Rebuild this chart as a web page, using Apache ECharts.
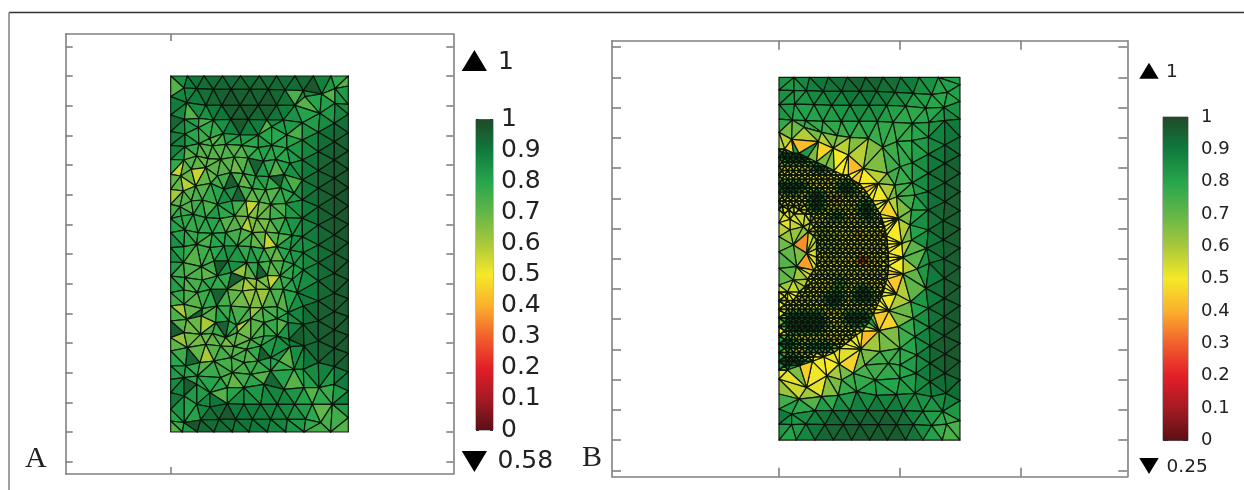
<!DOCTYPE html>
<html><head><meta charset="utf-8">
<style>html,body{margin:0;padding:0;background:#fff}#c{width:1244px;height:490px}</style>
<script src="https://cdn.jsdelivr.net/npm/echarts@6/dist/echarts.min.js"></script>
</head><body><div id="c"></div>
<script>
// colour scale (value, colour)
const scaleValues=[0,.1,.2,.3,.4,.5,.6,.7,.8,.9,1];
const scaleColors=['#5c0f15','#a51a24','#e31f28','#f2602c','#fbb02c','#f5e928','#a9c83a','#63b648','#26a64c','#0f7a3c','#1f4a28'];
const barTicks=['0','0.1','0.2','0.3','0.4','0.5','0.6','0.7','0.8','0.9','1'];

// mesh units: panel A is 534 x 1068, panel B is 543 x 1088, y measured from the top
const yTicksA=[-89,0,89,178,267,356,445,534,623,712,801,890,979,1068,1157];
const xTicksA=[0];
const yTicksB=[-91,0,91,181,272,363,453,544,635,725,816,907,997,1088,1179];
const xTicksB=[0,362,724];

// panel A nodes: x, y, value in percent
const nodesA=[
0,0,78, 50,0,90, 100,0,92, 156,0,92, 210,0,92, 266,0,93, 318,0,92, 373,0,92, 428,0,96, 481,0,82, 533,0,74,
40,36,86, 78,38,92, 128,40,94, 181,40,95, 238,40,95, 293,40,94, 343,42,94, 398,44,92, 453,54,88, 493,38,80,
0,62,92, 533,30,80, 48,80,84, 106,88,92, 153,88,96, 208,88,96, 263,88,96, 318,88,94, 373,88,86, 403,62,76, 493,82,80, 533,85,88,
0,117,92, 41,130,84, 85,127,82, 128,132,80, 180,130,96, 233,130,94, 288,132,92, 338,132,88, 395,140,80, 448,112,76, 533,115,90,
0,167,90, 43,174,86, 83,155,78, 118,187,76, 158,172,78, 208,177,92, 263,177,82, 303,152,78, 348,177,80, 395,192,82, 443,169,90, 491,142,92, 533,170,94,
0,208,90, 43,212,86, 85,203,74, 125,210,74, 165,205,74, 213,208,72, 263,215,84, 303,208,80, 348,216,80, 395,252,88, 443,227,92, 491,197,96, 533,225,95,
0,250,88, 40,252,76, 78,240,72, 112,248,70, 150,250,74, 190,243,72, 232,246,72, 278,256,80, 315,250,78, 358,262,80, 443,284,94, 491,252,97, 533,280,96,
0,295,70, 30,300,66, 62,280,70, 105,275,68, 140,300,72, 180,290,70, 218,293,72, 255,300,86, 295,302,80, 340,296,86, 395,312,88, 491,307,98, 533,335,97,
0,340,74, 38,345,70, 75,330,72, 120,322,70, 160,340,84, 203,330,82, 245,338,74, 285,342,78, 330,335,76, 370,352,80, 443,337,95, 491,362,98, 533,390,98,
0,385,68, 28,392,74, 62,375,74, 95,372,76, 140,385,86, 183,375,88, 225,375,70, 265,378,66, 300,385,76, 345,382,80, 395,372,88, 443,392,94, 533,445,97,
0,428,80, 32,420,80, 68,415,78, 105,425,82, 148,428,80, 192,420,70, 232,422,66, 258,428,64, 298,430,70, 345,425,82, 395,427,86, 491,422,97,
0,470,84, 42,462,78, 82,470,76, 125,472,78, 165,470,76, 212,458,70, 245,470,70, 285,468,68, 325,472,74, 365,478,84, 443,447,94, 533,500,97, 491,477,97,
0,515,90, 40,512,80, 78,505,78, 118,515,78, 160,510,84, 200,510,80, 240,512,76, 280,518,72, 318,512,76, 358,522,86, 395,482,84, 443,507,90, 533,555,96,
0,558,92, 38,560,74, 92,572,72, 130,555,76, 172,555,90, 228,560,80, 262,560,90, 300,555,68, 340,555,78, 370,565,80, 398,530,84, 491,532,96, 443,560,92,
0,600,80, 42,605,74, 95,612,76, 140,600,78, 182,590,84, 222,605,66, 258,610,66, 290,598,66, 328,600,76, 365,610,80, 398,582,84, 491,592,96, 533,612,97,
0,650,84, 40,642,80, 80,650,74, 120,640,84, 170,640,72, 215,645,62, 256,640,58, 298,640,70, 338,640,76, 380,650,84, 443,615,90, 533,668,96,
0,690,74, 40,685,68, 95,698,72, 138,690,80, 180,690,72, 238,695,70, 275,695,70, 320,692,76, 352,710,80, 398,690,90, 491,652,96, 443,675,94,
0,735,76, 48,730,70, 92,720,70, 135,740,84, 175,735,78, 198,748,82, 240,728,70, 280,740,76, 320,728,78, 352,740,84, 398,745,92, 491,707,96, 533,722,96,
0,785,68, 40,770,68, 90,775,66, 125,772,72, 165,785,74, 200,770,70, 240,790,70, 280,780,76, 320,780,80, 355,790,88, 443,735,96, 533,778,96,
0,825,74, 50,815,70, 105,805,66, 150,810,72, 190,812,70, 228,820,74, 270,810,82, 300,845,86, 358,812,88, 400,810,92, 443,795,96, 491,762,96, 533,832,96,
0,870,80, 45,870,84, 88,860,74, 130,855,78, 182,845,74, 220,860,76, 262,855,78, 325,855,78, 398,880,88, 443,860,92, 491,817,98, 533,888,97,
0,910,86, 40,905,80, 80,900,76, 150,905,76, 185,890,72, 240,895,76, 300,885,76, 370,880,76, 491,872,94, 533,945,96,
0,950,92, 78,925,80, 118,950,88, 170,935,74, 220,935,78, 280,925,84, 340,940,90, 400,935,78, 445,935,78, 490,925,76,
40,960,90, 78,985,78, 118,993,94, 170,983,90, 220,985,88, 270,985,88, 320,985,88, 372,985,84, 425,985,80, 485,985,76, 533,985,94,
0,1000,88, 0,1035,78, 40,1040,74, 90,1032,90, 145,1030,94, 195,1030,92, 245,1030,92, 300,1030,88, 350,1030,88, 405,1030,82, 450,1040,74, 533,1025,76,
0,1068,70, 35,1068,78, 80,1068,96, 130,1068,94, 185,1068,90, 235,1068,90, 290,1068,88, 345,1068,86, 400,1068,78, 480,1068,74, 533,1068,68
];
// panel A: single elements whose shade stands out: x, y inside the element, value in percent
const elementsA=[
17,285,56, 50,315,58, 90,300,56, 185,285,60, 258,380,56, 228,445,58, 305,495,56, 10,370,60,
308,552,62, 298,612,56, 228,632,60, 208,597,62, 278,662,62, 33,702,60, 253,712,62, 208,757,58, 93,762,60, 13,792,62, 103,822,60, 168,792,66,
208,157,97, 423,27,97, 178,327,96, 203,367,95, 253,287,95, 338,297,96, 168,557,97, 263,562,96, 188,607,96, 138,642,95, 78,722,95, 173,742,95, 13,767,96, 378,792,96, 268,837,96, 58,837,94, 53,922,96, 318,922,94, 158,1007,97, 80,1047,98,
18,20,72, 515,20,72, 10,1050,72, 520,1050,72, 180,60,97, 290,60,97, 100,60,92, 240,110,97, 300,110,96, 20,140,94,
418,102,72, 378,72,74, 480,60,72, 298,152,72, 378,167,74, 148,182,70, 188,262,68, 228,332,70, 60,115,72, 85,150,74, 60,235,72, 120,260,70, 150,220,72, 320,270,72, 360,320,74, 300,360,72, 340,400,74, 60,395,72, 110,400,74, 160,450,72, 120,495,74, 80,540,72, 350,480,74, 320,540,70, 250,490,70, 60,640,72, 120,590,70, 180,670,70, 340,660,72, 60,700,70, 120,710,72, 330,760,72, 220,770,68, 130,830,72, 240,840,72, 340,840,72, 100,880,72, 200,910,70, 150,950,72, 260,900,72, 380,910,72, 420,960,72, 470,1000,70
];

// panel B coarse nodes: x, y, value in percent
const nodesB=[
0,0,82, 45,0,85, 92,0,90, 148,0,92, 205,0,95, 260,0,96, 312,0,95, 365,0,92, 420,0,90, 478,0,84, 543,0,78,
0,38,86, 45,40,80, 82,40,86, 133,42,90, 188,42,92, 243,42,93, 293,42,92, 348,45,90, 403,48,86, 458,52,80, 505,45,78, 543,22,82,
0,82,88, 47,80,82, 105,82,84, 158,84,84, 213,84,86, 270,84,88, 323,84,86, 380,86,80, 440,92,78, 495,90,80, 543,72,84,
0,125,82, 40,128,80, 80,130,78, 132,132,80, 187,132,82, 240,132,84, 295,132,82, 342,135,78, 400,138,78, 450,135,82, 497,130,88, 543,125,90,
0,165,72, 75,150,76, 128,165,74, 175,175,74, 213,180,72, 268,183,74, 311,210,74, 353,193,76, 448,180,84, 498,203,92, 543,178,92, 398,190,78,
38,186,50, 118,193,50, 163,213,50, 208,233,50, 253,273,50, 298,318,50, 328,368,52, 358,423,50, 368,498,50, 372,540,50, 372,590,50, 352,650,50, 330,700,52, 300,760,52, 245,815,54, 180,860,54, 143,895,52, 83,930,50, 0,905,52,
325,288,74, 363,268,78, 400,256,80, 448,231,86, 348,323,74, 400,316,78, 448,288,90, 498,258,94, 543,233,95, 353,358,72, 408,353,78, 448,343,90, 498,316,95, 543,288,96, 398,398,76, 448,398,90, 498,373,96, 543,343,96,
393,443,76, 448,458,90, 493,430,96, 543,400,96, 398,488,76, 443,513,88, 493,488,96, 543,455,96, 451,558,88, 495,545,96, 543,512,96, 415,575,76, 441,633,86, 496,603,96, 543,570,96,
395,673,76, 448,693,88, 496,663,96, 543,628,96, 403,723,78, 451,750,90, 496,718,97, 543,685,96, 358,748,72, 408,778,82, 453,805,92, 496,776,97, 543,742,97, 363,813,74, 413,833,84, 453,858,92, 498,830,97, 543,798,97,
303,823,76, 328,858,78, 363,863,78, 411,888,84, 453,913,92, 498,888,96, 543,852,97, 258,863,72, 288,908,78, 363,903,78, 223,888,74, 188,908,74, 233,943,82, 408,948,84, 458,958,86, 501,948,90, 543,908,96,
0,950,70, 60,965,64, 128,958,68, 178,954,74, 293,954,84, 353,952,84, 0,995,92, 38,1010,86, 108,1000,86, 161,1000,92, 213,1000,92, 266,1000,92, 321,1000,94, 373,1000,90, 431,1002,84, 491,1002,82, 543,970,92,
0,1040,90, 38,1042,80, 81,1040,84, 138,1042,94, 193,1042,95, 243,1042,96, 298,1042,96, 353,1042,96, 403,1042,90, 458,1045,80, 503,1040,74, 543,1030,76,
0,1088,78, 52,1088,84, 108,1088,94, 163,1088,94, 218,1088,96, 272,1088,96, 325,1088,97, 380,1088,96, 432,1088,88, 490,1088,76, 543,1088,72
];
// panel B nodes in the coarser centre of the refined half disc: x, y, value in percent
const coreNodesB=[
0,397,58, 30,397,54, 60,397,50, 15,410,52, 45,410,50, 78,410,54, 33,426,50, 73,448,62, 33,458,56, 88,463,58, 0,436,56, 0,478,60, 43,503,70, 83,528,62, 0,523,74, 53,568,66, 0,573,76, 43,608,68, 78,628,60, 0,623,66
];
// panel B refined nodes, row by row: y, then x positions
const denseRowsB=[
[215,0,17],[228,9,26,44,60],[241,0,17,34,52,70,86],[254,9,26,43,61,78,96,112],[267,0,17,35,52,69,87,104,122,140],
[280,8,26,43,61,78,95,113,130,148,165],[293,0,17,34,52,69,87,104,121,139,156,174,191,208],[306,9,26,43,60,78,95,113,130,147,165,182,200,217],
[319,0,17,35,52,69,87,104,122,139,156,174,191,209,226,240],[332,8,26,43,61,78,95,113,130,148,165,182,200,217,235,252],
[345,0,17,34,52,69,87,104,121,139,156,174,191,208,226,243,262],[358,9,26,43,60,78,95,113,130,147,165,182,200,217,235,252,270],
[371,0,17,35,52,69,87,104,122,139,156,174,191,209,226,243,261,280],[384,8,26,43,61,78,95,113,130,148,165,182,200,217,235,252,270,287],
[397,87,104,121,139,156,174,191,208,226,243,261,278,295],[410,95,113,130,147,165,182,200,217,235,252,270,287,302],
[423,104,122,139,156,174,191,209,226,243,261,278,295,308],[436,95,113,130,148,165,182,200,217,235,252,270,287,304,312],
[449,104,121,139,156,174,191,208,226,243,261,278,295,316],[462,113,130,147,165,182,200,217,235,252,270,287,304,319],
[475,104,122,139,156,174,191,209,226,243,261,278,295,312,322],[488,113,130,148,165,182,200,217,235,252,270,287,304,324],
[501,121,139,156,174,191,208,226,243,261,278,295,312,325],[514,113,130,147,165,182,200,217,235,252,270,287,304,326],
[527,122,139,156,174,191,209,226,243,261,278,295,312,327],[540,113,130,148,165,182,200,217,235,252,270,287,304,328],
[553,121,139,156,174,191,208,226,243,261,278,295,312,328],[566,113,130,147,165,182,200,217,235,252,270,287,304,328],
[579,105,122,139,156,174,191,209,226,243,261,278,295,312,327],[592,95,113,130,148,165,182,200,217,235,252,270,287,304,326],
[605,87,104,121,139,156,174,191,208,226,243,261,278,295,312,324],[618,95,113,130,147,165,182,200,217,235,252,270,287,304,320],
[631,87,104,122,139,156,174,191,209,226,243,261,278,295,316],[644,0,26,61,78,95,113,130,148,165,182,200,217,235,252,270,287,304,312],
[657,17,52,69,87,104,121,139,156,174,191,208,226,243,261,278,295,306],[670,0,26,43,60,78,95,113,130,147,165,182,200,217,235,252,270,287,302],
[683,17,35,52,69,87,104,122,139,156,174,191,209,226,243,261,278,295],[696,0,26,43,61,78,95,113,130,148,165,182,200,217,235,252,270,288],
[709,17,34,52,69,87,104,121,139,156,174,191,208,226,243,261,283],[722,0,26,43,60,78,95,113,130,147,165,182,200,217,235,252,276],
[735,17,35,52,69,87,104,122,139,156,174,191,209,226,243,268],[748,0,26,43,61,78,95,113,130,148,165,182,200,217,235,258],
[761,17,34,52,69,87,104,121,139,156,174,191,208,226,250],[774,0,26,43,60,78,95,113,130,147,165,182,200,217,232],
[787,17,35,52,69,87,104,122,139,156,174,191,215],[800,0,26,43,61,78,95,113,130,148,165,182,198],
[813,17,34,52,69,87,104,121,139,156,182],[826,0,26,43,60,78,95,113,130,147,165],
[839,17,35,52,69,87,104,135],[852,0,26,43,61,78,100],[865,17,34,62],[878,0,26]
];
// panel B refined zones: centre x, centre y, half width, half height, value in percent
const zonesB=[
50,238,62,20,99, 125,268,35,14,99, 205,335,28,22,99, 262,400,24,34,99,
40,328,45,20,99, 113,368,22,32,99, 175,415,22,16,90,
173,368,18,16,35, 223,423,12,12,38, 238,468,12,14,35, 253,548,14,12,15, 130,480,25,40,60, 183,623,25,25,74,
70,735,70,38,99, 165,665,28,22,99, 255,650,30,28,99, 235,725,42,24,99, 30,800,40,15,96, 120,810,50,14,90, 40,852,45,16,99, 310,600,16,30,46, 305,480,16,30,46, 160,500,24,50,56
];
// panel B: single elements that stand out: x, y inside the element, value in percent
const elementsB=[
93,208,42, 38,203,45, 178,233,50, 223,283,42, 283,323,42, 313,373,50, 338,448,50, 348,588,42, 308,718,44, 268,773,42, 158,853,50, 88,883,45, 113,928,52, 23,908,52,
68,508,36, 68,558,38, 20,440,52, 320,500,52, 340,540,50, 130,205,46, 240,300,44, 340,400,46, 355,620,44, 320,750,46, 210,840,46
];

// ---- mesh building ----
function triples(a){const o=[];for(let i=0;i<a.length;i+=3)o.push([a[i],a[i+1],a[i+2]]);return o;}
function circum(P,a,b,c){
  const [ax,ay]=P[a],[bx,by]=P[b],[cx,cy]=P[c];
  const d=2*(ax*(by-cy)+bx*(cy-ay)+cx*(ay-by));
  if(Math.abs(d)<1e-9)return {a,b,c,x:0,y:0,r:Infinity};
  const A=ax*ax+ay*ay,B=bx*bx+by*by,C=cx*cx+cy*cy;
  const x=(A*(by-cy)+B*(cy-ay)+C*(ay-by))/d,y=(A*(cx-bx)+B*(ax-cx)+C*(bx-ax))/d;
  return {a,b,c,x,y,r:(ax-x)*(ax-x)+(ay-y)*(ay-y)};
}
function triangulate(nodes){
  const n=nodes.length,P=nodes.map(p=>[p[0],p[1]]);
  P.push([-2e5,-2e5],[2e5,-2e5],[0,2e5]);
  let tris=[circum(P,n,n+1,n+2)];
  for(let i=0;i<n;i++){
    const [x,y]=P[i],keep=[],edges=new Map();
    for(const t of tris){
      const dx=x-t.x,dy=y-t.y;
      if(t.r===Infinity||dx*dx+dy*dy<t.r*(1-1e-10)){
        for(const [u,v] of [[t.a,t.b],[t.b,t.c],[t.c,t.a]]){
          const k=u<v?u+'_'+v:v+'_'+u;
          edges.set(k,edges.has(k)?null:[u,v]);
        }
      } else keep.push(t);
    }
    for(const e of edges.values()) if(e) keep.push(circum(P,e[0],e[1],i));
    tris=keep;
  }
  return tris.filter(t=>t.a<n&&t.b<n&&t.c<n);
}
function inside(px,py,t){
  const s=(a,b)=>(b[0]-a[0])*(py-a[1])-(b[1]-a[1])*(px-a[0]);
  const d1=s(t[0],t[1]),d2=s(t[1],t[2]),d3=s(t[2],t[0]);
  return !((d1<0||d2<0||d3<0)&&(d1>0||d2>0||d3>0));
}
function elementData(nodes,samples){
  const seen=new Set(),uniq=nodes.filter(p=>{const k=p[0]+'_'+p[1];if(seen.has(k))return false;seen.add(k);return true;});
  const smp=triples(samples);
  return triangulate(uniq).map(t=>{
    const q=[uniq[t.a],uniq[t.b],uniq[t.c]];
    let v=(q[0][2]+q[1][2]+q[2][2])/3;
    for(const s of smp) if(inside(s[0],s[1],q)) v=s[2];
    return [q[0][0],q[0][1],q[1][0],q[1][1],q[2][0],q[2][1],v/100];
  }).filter(d=>Math.abs((d[2]-d[0])*(d[5]-d[1])-(d[4]-d[0])*(d[3]-d[1]))>0.5);
}
function fives(a){const o=[];for(let i=0;i<a.length;i+=5)o.push(a.slice(i,i+5));return o;}
function zoneValue(x,y){
  let v=50;
  for(const q of fives(zonesB)){const a=(x-q[0])/q[2],b=(y-q[1])/q[3];if(a*a+b*b<=1)v=q[4];}
  return v;
}
const allB=triples(nodesB).concat(triples(coreNodesB));
denseRowsB.forEach(r=>{for(let i=1;i<r.length;i++)allB.push([r[i],r[0],zoneValue(r[i],r[0])]);});

function hex(c){return [1,3,5].map(i=>parseInt(c.substr(i,2),16));}
function colorOf(v){
  v=Math.max(0,Math.min(1,v));
  const i=Math.min(9,Math.floor(v*10+1e-9)),f=(v-scaleValues[i])/(scaleValues[i+1]-scaleValues[i]);
  const a=hex(scaleColors[i]),b=hex(scaleColors[i+1]);
  return 'rgb('+a.map((x,k)=>Math.round(x+(b[k]-x)*f)).join(',')+')';
}
function renderTri(params,api){
  const pts=[api.coord([api.value(0),api.value(1)]),api.coord([api.value(2),api.value(3)]),api.coord([api.value(4),api.value(5)])];
  const side=Math.max(Math.hypot(pts[0][0]-pts[1][0],pts[0][1]-pts[1][1]),Math.hypot(pts[1][0]-pts[2][0],pts[1][1]-pts[2][1]));
  return {type:'polygon',shape:{points:pts},style:{fill:colorOf(api.value(6)),stroke:'rgba(8,20,10,0.95)',lineWidth:side<9?1.7:1.2,lineJoin:'round'},silent:true};
}

// ---- axes ----
const AXC='#808080';
function frameAxes(grid,xr,yr,xt,yt,len){
  const base=(extra)=>Object.assign({gridIndex:grid,type:'value',axisLine:{show:true,onZero:false,lineStyle:{color:AXC,width:1.6}},axisLabel:{show:false},splitLine:{show:false}},extra);
  const tick=(vals)=>({show:true,inside:true,length:len,customValues:vals,lineStyle:{color:AXC,width:1.6}});
  return {
    x:['bottom','top'].map(p=>base({position:p,min:xr[0],max:xr[1],axisTick:tick(xt)})),
    y:['left','right'].map(p=>base({position:p,min:yr[0],max:yr[1],inverse:true,axisTick:tick(yt)}))
  };
}
const fa=frameAxes(0,[-315,848],[-126,1194],xTicksA,yTicksA,7);
const fb=frameAxes(2,[-501,1045],[-110,1198],xTicksB,yTicksB,9);
function barAxes(grid,font,len){
  const ax=(pos,lab)=>({gridIndex:grid,type:'value',position:pos,min:0,max:1,interval:0.1,
    axisLine:{show:false},splitLine:{show:false},
    axisTick:{show:true,inside:true,length:len,lineStyle:{color:'#333',width:1}},
    axisLabel:lab?{show:true,inside:false,margin:font>20?8:13,fontFamily:'DejaVu Sans',fontSize:font,color:'#222',formatter:v=>barTicks[Math.round(v*10)]}:{show:false}});
  return {x:{gridIndex:grid,type:'category',data:['value'],show:false},y:[ax('left',false),ax('right',true)]};
}
const ba=barAxes(1,25,3),bb=barAxes(3,18,5);
const gradient=new echarts.graphic.LinearGradient(0,1,0,0,scaleValues.map((v,i)=>({offset:v,color:scaleColors[i]})));

// grid order matches gridIndex
const xAxes=[...fa.x,ba.x,...fb.x,bb.x];
const yAxes=[...fa.y,...ba.y,...fb.y,...bb.y];
const idx={xA:0,yA:0,xBarA:2,yBarA:2,xB:3,yB:4,xBarB:5,yBarB:6};

function txt(x,y,s,font,family,va){return {type:'text',x,y,silent:true,style:{text:s,fontFamily:family||'DejaVu Sans',fontSize:font,fill:'#222',textVerticalAlign:va||'middle',verticalAlign:va||'middle'}};}
function tri(pts){return {type:'polygon',silent:true,shape:{points:pts},style:{fill:'#000'}};}

const chart=echarts.init(document.getElementById('c'),null,{renderer:'canvas'});
chart.setOption({
  animation:false,backgroundColor:'#fff',
  grid:[
    {left:65.7,top:34,width:387.6,height:440},
    {left:476,top:119.5,width:17,height:310.5,show:true,borderColor:'#777',borderWidth:1},
    {left:612,top:40.7,width:515.3,height:436},
    {left:1163,top:117,width:25,height:323.5,show:true,borderColor:'#777',borderWidth:1}
  ],
  xAxis:xAxes,yAxis:yAxes,
  series:[
    {type:'custom',name:'A',xAxisIndex:idx.xA,yAxisIndex:idx.yA,coordinateSystem:'cartesian2d',data:elementData(triples(nodesA),elementsA),renderItem:renderTri,encode:{x:0,y:1},silent:true,clip:false},
    {type:'bar',name:'scale A',xAxisIndex:idx.xBarA,yAxisIndex:idx.yBarA,data:[1],barWidth:'100%',itemStyle:{color:gradient},silent:true},
    {type:'custom',name:'B',xAxisIndex:idx.xB,yAxisIndex:idx.yB,coordinateSystem:'cartesian2d',data:elementData(allB,elementsB),renderItem:renderTri,encode:{x:0,y:1},silent:true,clip:false},
    {type:'bar',name:'scale B',xAxisIndex:idx.xBarB,yAxisIndex:idx.yBarB,data:[1],barWidth:'100%',itemStyle:{color:gradient},silent:true}
  ],
  graphic:[
    {type:'line',silent:true,shape:{x1:9,y1:12.5,x2:1244,y2:12.5},style:{stroke:'#333',lineWidth:1.3}},
    {type:'line',silent:true,shape:{x1:9,y1:12.5,x2:9,y2:490},style:{stroke:'#888',lineWidth:1.6}},
    tri([[461.7,71],[487,71],[474.4,50]]),
    tri([[461.7,451],[487,451],[474.4,472]]),
    tri([[1139.3,78.7],[1158.7,78.7],[1149,62.7]]),
    tri([[1139.3,458],[1158.7,458],[1149,474]]),
    txt(498,62,'1',25),txt(497.5,461,'0.58',25),
    txt(1166,72,'1',18.5),txt(1166.5,467,'0.25',18.5),
    txt(25,474,'A',30,'Liberation Serif','bottom'),
    txt(582,473,'B',30,'Liberation Serif','bottom')
  ]
});
</script></body></html>
